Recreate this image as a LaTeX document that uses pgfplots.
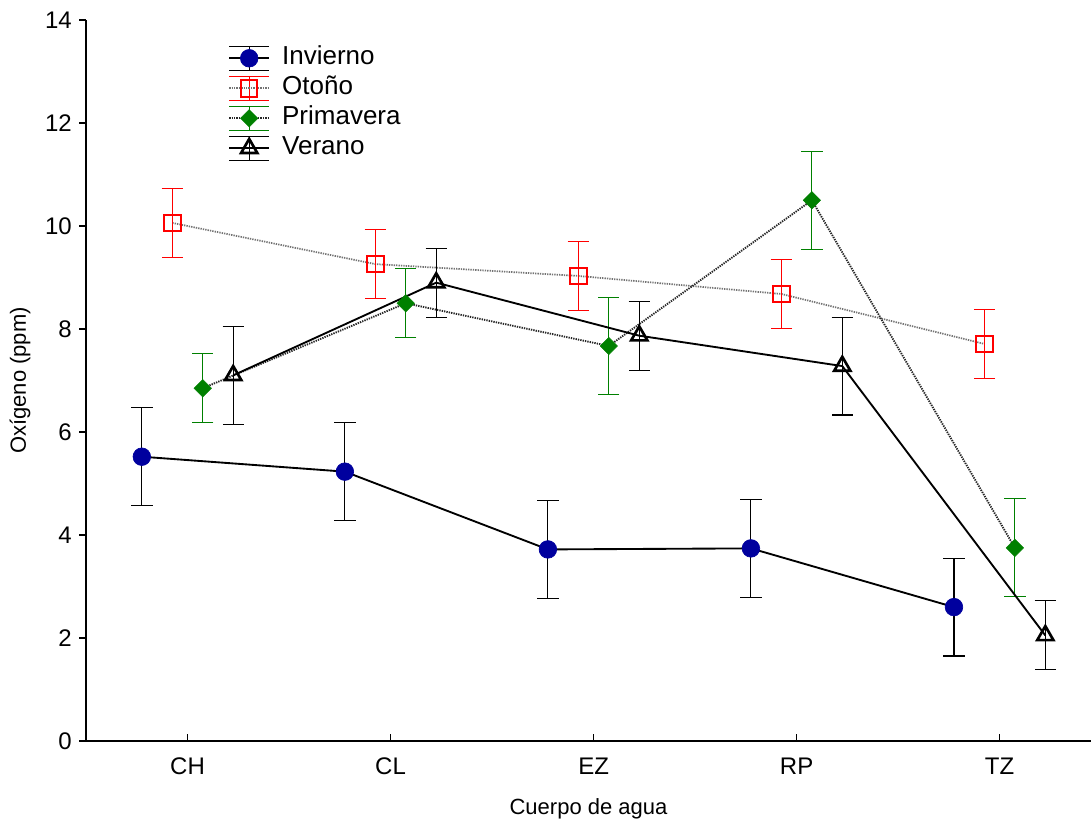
\documentclass[border=0pt]{standalone}
\usepackage{fontspec}
\setmainfont{Liberation Sans}
\usepackage{pgfplots}
\pgfplotsset{compat=1.18}
\definecolor{navy}{rgb}{0,0,0.62}
\definecolor{sgreen}{rgb}{0,0.5,0}

% legend entry: error-bar caps + series line + marker
\pgfplotsset{
  errleg/.style={legend image code/.code={
    \draw[#1, solid, line width=0.8pt] (0pt,9pt)--(30pt,9pt) (0pt,-9pt)--(30pt,-9pt) (15pt,-9pt)--(15pt,9pt);
    \draw[##1, mark repeat=2, mark phase=2] plot coordinates {(0pt,0pt)(15pt,0pt)(30pt,0pt)};
  }},
  ebar/.style={error bars/y dir=both, error bars/y explicit,
    error bars/error bar style={#1, solid, line width=0.8pt},
    error bars/error mark options={#1, solid, rotate=90, line width=0.8pt, mark size=8pt}},
}

\begin{document}
\fontsize{16.5}{19}\selectfont
\begin{tikzpicture}
\begin{axis}[
  at={(0,0)}, anchor=south west,
  scale only axis, width=753.75pt, height=540.75pt,
  xmin=-0.5, xmax=4.45, ymin=0, ymax=14,
  axis x line*=bottom, axis y line*=left,
  axis line style={-, line width=0.8pt},
  xtick={0,1,2,3,4}, xticklabels={CH,CL,EZ,RP,TZ},
  ytick={0,2,...,14},
  tick align=outside,
  major tick length=5pt,
  tick style={black, line width=0.8pt},
  xtick style={yshift=5pt},
  /pgf/number format/assume math mode=true,
  tick label style={font=\fontsize{18}{21}\selectfont},
  xticklabel style={yshift=-2pt},
  xlabel={Cuerpo de agua},
  ylabel={Oxígeno (ppm)},
  every axis x label/.style={at={(rel axis cs:0.5,0)}, anchor=base, yshift=-55.5pt,
    font=\fontsize{16.5}{19}\selectfont},
  every axis y label/.style={at={([xshift=-49.5pt]rel axis cs:0,0.5)}, rotate=90, anchor=center,
    font=\fontsize{16.5}{19}\selectfont},
  legend style={draw=none, fill=none, at={(rel axis cs:0.1413,0.9667)}, anchor=north west,
    inner sep=0pt, row sep=1.5pt, column sep=7pt,
    nodes={inner sep=2pt, text height=13pt, text depth=4pt},
    font=\fontsize{19.5}{22}\selectfont},
  legend cell align=left,
  clip=false,
]
% Invierno
\addplot[black, line width=1.4pt, mark=*, mark size=6.6pt,
  mark options={solid, fill=navy, draw=navy, line width=0.5pt},
  errleg=black, ebar=black]
  coordinates {(-0.225,5.52)+-(0,0.95) (0.775,5.23)+-(0,0.95) (1.775,3.72)+-(0,0.95)
               (2.775,3.74)+-(0,0.95) (3.775,2.60)+-(0,0.95)};
\addlegendentry{Invierno}
% Otoño
\addplot[black!55, line width=1.3pt, dash pattern=on 1pt off 0.8pt, mark=square, mark size=6.2pt,
  mark options={solid, red, fill=white, line width=1.5pt},
  errleg=red, ebar=red]
  coordinates {(-0.075,10.06)+-(0,0.67) (0.925,9.26)+-(0,0.67) (1.925,9.03)+-(0,0.67)
               (2.925,8.68)+-(0,0.67) (3.925,7.71)+-(0,0.67)};
\addlegendentry{Otoño}
% Primavera
\addplot[black!85, line width=1.4pt, dash pattern=on 1pt off 0.8pt, mark=square*, mark size=4.6pt,
  mark options={solid, rotate=45, fill=sgreen, draw=sgreen, line width=0.4pt},
  errleg=sgreen, ebar=sgreen]
  coordinates {(0.075,6.85)+-(0,0.67) (1.075,8.50)+-(0,0.67) (2.075,7.67)+-(0,0.95)
               (3.075,10.50)+-(0,0.95) (4.075,3.75)+-(0,0.95)};
\addlegendentry{Primavera}
% Verano
\addplot[black, line width=1.4pt, mark=triangle, mark size=7pt,
  mark options={solid, black, fill=white, line width=2pt},
  errleg=black, ebar=black]
  coordinates {(0.225,7.10)+-(0,0.95) (1.225,8.90)+-(0,0.67) (2.225,7.87)+-(0,0.67)
               (3.225,7.28)+-(0,0.95) (4.225,2.05)+-(0,0.67)};
\addlegendentry{Verano}
\end{axis}
\pgfresetboundingbox
\path (-64.5pt,-61.5pt) rectangle (753.75pt,555.75pt);
\end{tikzpicture}
\end{document}
